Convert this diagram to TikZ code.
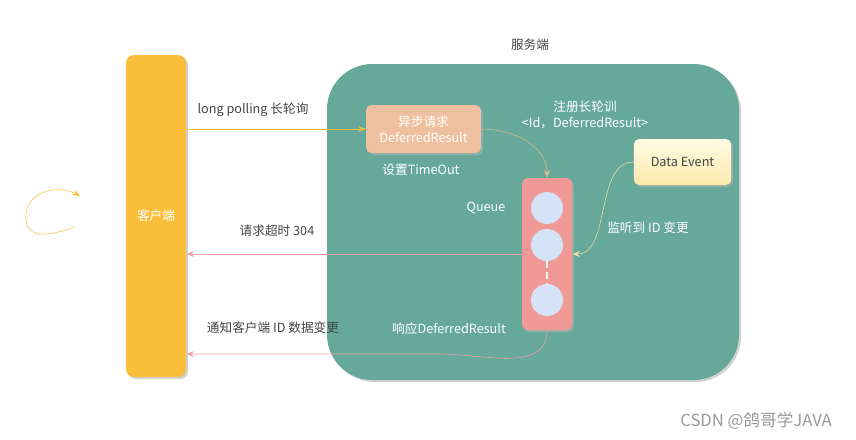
\documentclass[tikz,border=0pt]{standalone}
\usepackage{fontspec}
\setmainfont{Noto Sans CJK SC}
\usepackage{xcolor}
\usetikzlibrary{arrows.meta,positioning,shadows}
\tikzset{>={Stealth[length=2mm]}}

\definecolor{clientc}{HTML}{F9BF3B}
\definecolor{serverc}{HTML}{66A99B}
\definecolor{asyncc}{HTML}{EEC09F}
\definecolor{queuec}{HTML}{EF9A96}
\definecolor{slotc}{HTML}{D5E3F7}
\definecolor{eventtop}{HTML}{FFFAE3}
\definecolor{eventbot}{HTML}{FBE9AC}
\definecolor{pinkc}{HTML}{F3A2A2}
\definecolor{regc}{HTML}{E8B68F}
\definecolor{listenc}{HTML}{EFE0A3}
\definecolor{darktext}{HTML}{444444}

\begin{document}
\begin{tikzpicture}[x=0.75pt,y=-0.75pt,font=\fontsize{9.5}{12}\selectfont,
    shade/.style={drop shadow={shadow xshift=1.5pt,shadow yshift=-1.5pt,fill=black!30,opacity=0.6}},
    box/.style={rectangle,inner sep=0pt,text=white,shade},
    slot/.style={circle,fill=slotc,minimum size=24pt,inner sep=0pt},
    wlabel/.style={text=white},
    dlabel/.style={text=darktext}]
    \useasboundingbox (0,0) rectangle (856,439);

    % the two sides
    \node[box,fill=clientc,rounded corners=6pt,minimum width=45pt,minimum height=241.5pt] (client) at (156,216) {客户端};
    \node[box,fill=serverc,rounded corners=34pt,minimum width=309pt,minimum height=237pt] (server) at (533,222) {};
    \node[dlabel] (servername) at (530,45) {服务端};

    % inside the server
    \node[box,fill=asyncc,rounded corners=4pt,minimum width=86pt,minimum height=36pt,align=center] (async) at (423.5,129) {异步请求\\DeferredResult};
    \node[box,fill=queuec,rounded corners=4pt,minimum width=37.5pt,minimum height=114pt] (queue) at (547,254) {};
    \node[slot] (q1) at (547,208) {};
    \node[slot] (q2) at (547,245) {};
    \node[slot] (q3) at (547,300) {};
    \draw[white!60!slotc,thick,dash pattern=on 5pt off 3pt] (q2) -- (q3);
    \node[box,text=darktext,top color=eventtop,bottom color=eventbot,rounded corners=4pt,minimum width=73pt,minimum height=34.5pt] (event) at (682.5,162) {Data Event};

    \node[wlabel] (timeout) at (421,170) {设置TimeOut};
    \node[wlabel,align=center] (register) at (585,115) {注册长轮训\\<Id，DeferredResult>};
    \node[wlabel] (queuename) at (486,208) {Queue};
    \node[wlabel] (listen) at (648,228) {监听到 ID 变更};
    \node[wlabel] (respond) at (449,329) {响应DeferredResult};

    % connectors
    \node[dlabel] (poll) at (253,110) {long polling 长轮询};
    \draw[->,clientc] (async.west -| client.east) -- (async.west);
    \draw[->,regc] (async.east) to[out=0,in=90] (queue.north);
    \draw[->,listenc] (event.west) to[out=180,in=0,looseness=0.9] (queue.east);
    \node[dlabel] (expire) at (277,231) {请求超时 304};
    \draw[->,pinkc] (queue.west) -- (queue.west -| client.east);
    \node[dlabel] (notify) at (273,328) {通知客户端 ID 数据变更};
    \coordinate (bend) at (440,354);
    \draw[->,pinkc] (queue.south) to[out=-90,in=0] (bend) -- (bend -| client.east);

    % loop on the left
    \draw[->,clientc] (75,227) .. controls (44,238) and (24,238) .. (26,214) .. controls (28,190) and (60,185) .. (80,196);

    \node[text=black!40,font=\fontsize{12.5}{14}\selectfont] (mark) at (756,421) {CSDN @鸽哥学JAVA};
\end{tikzpicture}
\end{document}
